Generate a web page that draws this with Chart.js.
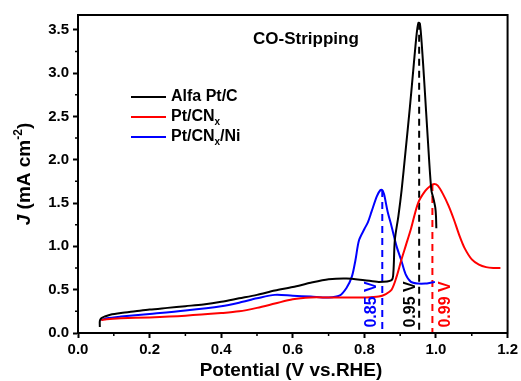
<!DOCTYPE html>
<html>
<head>
<meta charset="utf-8">
<script src="https://cdn.jsdelivr.net/npm/chart.js@4/dist/chart.umd.min.js"></script>
<style>
    html, body { margin: 0; padding: 0; background: #fff; }
    #wrap { width: 521px; height: 381px; }
</style>
</head>
<body>
<div id="wrap"><canvas id="coChart" width="521" height="381"></canvas></div>
<script>
// --- data ---
var alfaX = [0.061, 0.061, 0.065, 0.075, 0.09, 0.12, 0.16, 0.2, 0.25, 0.3, 0.35, 0.4, 0.45, 0.5, 0.55, 0.6, 0.65, 0.7, 0.75, 0.8, 0.84, 0.876, 0.881, 0.885, 0.895, 0.904, 0.915, 0.927, 0.938, 0.946, 0.951, 0.955, 0.96, 0.968, 0.977, 0.987, 0.993, 0.998, 1.0, 1.001];
var alfaY = [0.07, 0.14, 0.17, 0.19, 0.21, 0.23, 0.25, 0.27, 0.29, 0.31, 0.33, 0.36, 0.40, 0.44, 0.49, 0.53, 0.58, 0.62, 0.63, 0.61, 0.59, 0.61, 0.70, 1.07, 1.35, 1.65, 2.1, 2.6, 3.1, 3.45, 3.58, 3.57, 3.35, 2.85, 2.25, 1.65, 1.55, 1.45, 1.35, 1.21];

var cnX = [0.065, 0.08, 0.12, 0.2, 0.3, 0.4, 0.45, 0.5, 0.55, 0.6, 0.65, 0.7, 0.75, 0.8, 0.84, 0.86, 0.876, 0.89, 0.903, 0.915, 0.93, 0.95, 0.97, 0.985, 0.995, 1.005, 1.02, 1.035, 1.05, 1.065, 1.08, 1.1, 1.12, 1.14, 1.16, 1.18];
var cnY = [0.15, 0.16, 0.17, 0.18, 0.20, 0.23, 0.25, 0.29, 0.34, 0.39, 0.41, 0.41, 0.41, 0.41, 0.42, 0.45, 0.50, 0.65, 0.84, 1.0, 1.2, 1.5, 1.64, 1.70, 1.72, 1.70, 1.6, 1.47, 1.31, 1.13, 0.98, 0.85, 0.79, 0.76, 0.75, 0.75];

var niX = [0.065, 0.08, 0.12, 0.2, 0.3, 0.4, 0.45, 0.5, 0.55, 0.6, 0.65, 0.7, 0.73, 0.75, 0.765, 0.775, 0.785, 0.8, 0.81, 0.82, 0.835, 0.845, 0.85, 0.855, 0.865, 0.876, 0.89, 0.903, 0.915, 0.93, 0.95, 0.97, 0.985, 0.997];
var niY = [0.15, 0.17, 0.19, 0.22, 0.26, 0.31, 0.35, 0.40, 0.44, 0.43, 0.42, 0.41, 0.43, 0.52, 0.65, 0.84, 1.07, 1.2, 1.28, 1.4, 1.58, 1.65, 1.65, 1.6, 1.4, 1.23, 1.0, 0.84, 0.68, 0.59, 0.57, 0.57, 0.58, 0.59];

// peak potentials and heights (dashed markers)
var peakX = [0.85, 0.953, 0.99];
var peakY = [1.65, 3.58, 1.72];
var peakText = ['0.85 V', '0.95 V', '0.99 V'];
var peakTextX = [0.82, 0.928, 1.028];
var peakTextY = 0.33;

var seriesLabels = ['Alfa Pt/C', 'Pt/CN_x', 'Pt/CN_x/Ni'];
var seriesColors = ['#000000', '#ff0000', '#0000ff'];

var xTicks = [0, 0.2, 0.4, 0.6, 0.8, 1.0, 1.2];
var yTicks = [0, 0.5, 1.0, 1.5, 2.0, 2.5, 3.0, 3.5];

var FONT = '"Liberation Sans", Arial, sans-serif';

function toPoints(xs, ys) {
    var pts = [];
    for (var i = 0; i < xs.length; i++) {
        pts.push({ x: xs[i], y: ys[i] });
    }
    return pts;
}

// draws text where "_x" means subscript x
function drawRich(ctx, text, x, y, size) {
    var parts = text.split('_');
    ctx.textBaseline = 'middle';
    ctx.textAlign = 'left';
    for (var i = 0; i < parts.length; i++) {
        var p = parts[i];
        if (i > 0) {
            ctx.font = 'bold ' + Math.round(size * 0.62) + 'px ' + FONT;
            ctx.fillText(p.charAt(0), x, y + size * 0.3);
            x += ctx.measureText(p.charAt(0)).width;
            p = p.substring(1);
        }
        ctx.font = 'bold ' + size + 'px ' + FONT;
        ctx.fillText(p, x, y);
        x += ctx.measureText(p).width;
    }
}

var curves = [toPoints(alfaX, alfaY), toPoints(cnX, cnY), toPoints(niX, niY)];
var datasets = [];
for (var i = 0; i < 3; i++) {
    datasets.push({
        label: seriesLabels[i],
        data: curves[i],
        borderColor: seriesColors[i],
        borderWidth: 2,
        pointRadius: 0,
        showLine: true,
        tension: 0.3,
        fill: false
    });
}
// dashed drop lines: blue, black, red
var dashColors = ['#0000ff', '#000000', '#ff0000'];
for (var j = 0; j < peakX.length; j++) {
    datasets.push({
        label: 'peak' + j,
        data: [{ x: peakX[j], y: peakY[j] }, { x: peakX[j], y: 0 }],
        borderColor: dashColors[j],
        borderWidth: 2,
        borderDash: [7, 5],
        pointRadius: 0,
        showLine: true,
        fill: false
    });
}

// frame, minor ticks, legend, texts
var decorations = {
    id: 'decorations',
    afterDraw: function(chart) {
        var ctx = chart.ctx,
            a = chart.chartArea,
            xs = chart.scales.x,
            ys = chart.scales.y;

        ctx.save();
        ctx.strokeStyle = '#000';
        ctx.lineWidth = 2;
        ctx.strokeRect(a.left, a.top, a.right - a.left, a.bottom - a.top);

        // minor ticks
        ctx.lineWidth = 1.5;
        ctx.beginPath();
        for (var k = 0; k < xTicks.length - 1; k++) {
            var px = xs.getPixelForValue((xTicks[k] + xTicks[k + 1]) / 2);
            ctx.moveTo(px, a.bottom);
            ctx.lineTo(px, a.bottom + 3);
        }
        for (var m = 0; m < yTicks.length; m++) {
            var py = ys.getPixelForValue(yTicks[m] + 0.25);
            if (py < a.top) continue;
            ctx.moveTo(a.left, py);
            ctx.lineTo(a.left - 3, py);
        }
        ctx.stroke();

        // legend
        var rows = [97, 117, 137];
        for (var i = 0; i < 3; i++) {
            ctx.strokeStyle = seriesColors[i];
            ctx.lineWidth = 2;
            ctx.beginPath();
            ctx.moveTo(131, rows[i]);
            ctx.lineTo(166, rows[i]);
            ctx.stroke();
            ctx.fillStyle = '#000';
            drawRich(ctx, seriesLabels[i], 171, rows[i], 16);
        }

        // title inside the plot
        ctx.fillStyle = '#000';
        ctx.font = 'bold 17px ' + FONT;
        ctx.textAlign = 'left';
        ctx.textBaseline = 'middle';
        ctx.fillText('CO-Stripping', 253, 39);

        // peak labels, rotated
        for (var t = 0; t < peakText.length; t++) {
            ctx.save();
            ctx.translate(xs.getPixelForValue(peakTextX[t]), ys.getPixelForValue(peakTextY));
            ctx.rotate(-Math.PI / 2);
            ctx.fillStyle = dashColors[t];
            ctx.font = 'bold 16px ' + FONT;
            ctx.textAlign = 'center';
            ctx.textBaseline = 'middle';
            ctx.fillText(peakText[t], 0, 0);
            ctx.restore();
        }

        // y axis title: J (mA cm-2)
        ctx.save();
        ctx.translate(25, (a.top + a.bottom) / 2);
        ctx.rotate(-Math.PI / 2);
        ctx.fillStyle = '#000';
        ctx.textBaseline = 'middle';
        ctx.textAlign = 'left';
        var pieces = [
            ['italic bold 19px ' + FONT, 'J', 0],
            ['bold 19px ' + FONT, ' (mA cm', 0],
            ['bold 12px ' + FONT, '-2', -6],
            ['bold 19px ' + FONT, ')', 0]
        ];
        var total = 0;
        pieces.forEach(function(p) { ctx.font = p[0]; total += ctx.measureText(p[1]).width; });
        var cx = -total / 2;
        pieces.forEach(function(p) {
            ctx.font = p[0];
            ctx.fillText(p[1], cx, p[2]);
            cx += ctx.measureText(p[1]).width;
        });
        ctx.restore();

        // x axis title
        ctx.fillStyle = '#000';
        ctx.font = 'bold 19px ' + FONT;
        ctx.textAlign = 'center';
        ctx.textBaseline = 'middle';
        ctx.fillText('Potential (V vs.RHE)', 291, 371);

        ctx.restore();
    }
};

var ctx = document.getElementById('coChart');
var coChart = new Chart(ctx, {
    type: 'scatter',
    data: { datasets: datasets },
    options: {
        responsive: false,
        animation: false,
        devicePixelRatio: 1,
        layout: { padding: { top: 15, right: 11, left: 0, bottom: 0 } },
        plugins: {
            legend: { display: false },
            tooltip: { enabled: false }
        },
        scales: {
            x: {
                type: 'linear',
                min: 0,
                max: 1.2,
                afterFit: function(scale) { scale.height = 48; },
                border: { display: true, color: '#000', width: 2 },
                grid: { display: true, drawOnChartArea: false, drawTicks: true, tickLength: 5, tickColor: '#000', tickWidth: 2 },
                ticks: {
                    stepSize: 0.2,
                    includeBounds: false,
                    color: '#000',
                    padding: 3,
                    maxRotation: 0,
                    font: { family: FONT, size: 15, weight: 'bold' },
                    callback: function(v) { return Number(v).toFixed(1); }
                }
            },
            y: {
                type: 'linear',
                min: 0,
                max: 3.67,
                afterFit: function(scale) { scale.width = 78; },
                border: { display: true, color: '#000', width: 2 },
                grid: { display: true, drawOnChartArea: false, drawTicks: true, tickLength: 5, tickColor: '#000', tickWidth: 2 },
                ticks: {
                    stepSize: 0.5,
                    includeBounds: false,
                    color: '#000',
                    padding: 4,
                    font: { family: FONT, size: 15, weight: 'bold' },
                    callback: function(v) { return Number(v).toFixed(1); }
                }
            }
        }
    },
    plugins: [decorations]
});
</script>
</body>
</html>
